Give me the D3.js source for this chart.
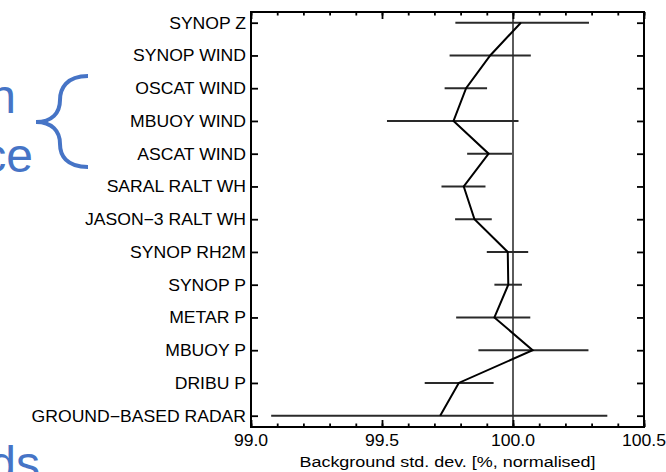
<!DOCTYPE html>
<meta charset="utf-8">
<script src="https://d3js.org/d3.v7.min.js"></script>
<style>
  body { margin: 0; background: #fff; }
  svg text { font-family: "Liberation Sans", Arial, sans-serif; }
</style>
<body>
<div id="chart"></div>
<script>

// observation types, top to bottom
var categories = ["SYNOP Z", "SYNOP WIND", "OSCAT WIND", "MBUOY WIND", "ASCAT WIND",
  "SARAL RALT WH", "JASON\u22123 RALT WH", "SYNOP RH2M", "SYNOP P", "METAR P",
  "MBUOY P", "DRIBU P", "GROUND\u2212BASED RADAR"];
var means = [100.03, 99.913, 99.821, 99.773, 99.907, 99.812, 99.853, 99.98, 99.982, 99.929, 100.075, 99.793, 99.722];
var lows  = [99.78, 99.758, 99.739, 99.519, 99.825, 99.727, 99.779, 99.90, 99.929, 99.783, 99.868, 99.663, 99.077];
var highs = [100.29, 100.068, 99.901, 100.021, 99.996, 99.895, 99.919, 100.058, 100.034, 100.066, 100.288, 99.926, 100.36];
var xTicks = [99.0, 99.5, 100.0, 100.5];
var xTitle = "Background std. dev. [%, normalised]";

var W = 666, H = 472;
var pl = 251, pr = 644, pt = 12, pb = 427;
var stretch = 1.1;

var svg = d3.select("#chart").append("svg")
  .attr("width", W).attr("height", H);

var data = categories.map(function(c, i) {
  return { name: c, mean: means[i], lo: lows[i], hi: highs[i] };
});

var x = d3.scaleLinear().domain([99, 100.5]).range([pl, pr]);
var y = d3.scalePoint().domain(categories).range([22.7, 415.7]);

// slide leftovers (blue text cut off at the left edge)
var blue = "#4674c6";
svg.append("text").attr("text-anchor", "end")
  .attr("transform", "translate(16,113)")
  .style("font-size", "48px").style("fill", blue).text("n");
svg.append("text").attr("text-anchor", "end")
  .attr("transform", "translate(33,172)")
  .style("font-size", "48px").style("fill", blue).text("ce");
svg.append("text").attr("text-anchor", "end")
  .attr("transform", "translate(40,480)")
  .style("font-size", "48px").style("fill", blue).text("ds");
svg.append("path")
  .attr("d", "M88,76 C66,76 60,89 60,100 C60,113 52,122 36,122 C52,122 60,131 60,144 C60,155 66,167 88,167")
  .attr("fill", "none").attr("stroke", blue).attr("stroke-width", 4);

// reference line at 100
svg.append("line")
  .attr("x1", x(100)).attr("x2", x(100))
  .attr("y1", pt).attr("y2", pb)
  .attr("stroke", "#333").attr("stroke-width", 1.6);

// error bars
svg.append("g").selectAll("line")
  .data(data).enter().append("line")
  .attr("x1", function(d) { return x(d.lo); })
  .attr("x2", function(d) { return x(d.hi); })
  .attr("y1", function(d) { return y(d.name); })
  .attr("y2", function(d) { return y(d.name); })
  .attr("stroke", "#2a2a2a").attr("stroke-width", 2);

// mean line
svg.append("path")
  .datum(data)
  .attr("fill", "none").attr("stroke", "#000").attr("stroke-width", 2)
  .attr("d", d3.line()
    .x(function(d) { return x(d.mean); })
    .y(function(d) { return y(d.name); }));

// axes, ticks pointing inward
var minor = d3.range(99, 100.5001, 0.1);
function tidy(g) {
  g.select(".domain").remove();
  g.selectAll("line").attr("stroke", "#000").attr("stroke-width", 1.8);
}
function xAxes(gen, ypos) {
  svg.append("g").attr("transform", "translate(0," + ypos + ")")
    .call(gen(x).tickValues(minor).tickSize(-3.5).tickFormat(""))
    .call(tidy);
  svg.append("g").attr("transform", "translate(0," + ypos + ")")
    .call(gen(x).tickValues(xTicks).tickSize(-7).tickFormat(""))
    .call(tidy);
}
xAxes(d3.axisBottom, pb);
xAxes(d3.axisTop, pt);

svg.append("g").attr("transform", "translate(" + pl + ",0)")
  .call(d3.axisLeft(y).tickSize(-7).tickFormat(""))
  .call(tidy);
svg.append("g").attr("transform", "translate(" + pr + ",0)")
  .call(d3.axisRight(y).tickSize(-7).tickFormat(""))
  .call(tidy);

// frame
svg.append("rect")
  .attr("x", pl).attr("y", pt)
  .attr("width", pr - pl).attr("height", pb - pt)
  .attr("fill", "none").attr("stroke", "#000").attr("stroke-width", 2);

// category labels
svg.append("g").selectAll("text")
  .data(categories).enter().append("text")
  .attr("text-anchor", "end")
  .attr("transform", function(d) { return "translate(" + (pl - 5) + "," + (y(d) + 6) + ") scale(" + stretch + ",1)"; })
  .style("font-size", "16px").style("fill", "#000")
  .text(function(d) { return d; });

// x tick labels
svg.append("g").selectAll("text")
  .data(xTicks).enter().append("text")
  .attr("text-anchor", "middle")
  .attr("transform", function(d) { return "translate(" + x(d) + ",446) scale(" + stretch + ",1)"; })
  .style("font-size", "16px").style("fill", "#000")
  .text(function(d) { return d.toFixed(1); });

svg.append("text")
  .attr("text-anchor", "middle")
  .attr("transform", "translate(" + ((pl + pr) / 2) + ",467) scale(1.16,1)")
  .style("font-size", "15.5px").style("fill", "#000")
  .text(xTitle);

</script>
</body>
